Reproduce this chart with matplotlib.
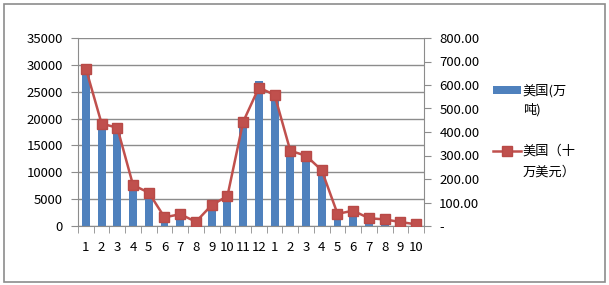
import matplotlib.pyplot as plt
import matplotlib.patches as mpatches
import numpy as np

plt.rcParams['font.family'] = ['Noto Sans CJK SC', 'DejaVu Sans']

# data
months = ['1', '2', '3', '4', '5', '6', '7', '8', '9', '10', '11', '12',
          '1', '2', '3', '4', '5', '6', '7', '8', '9', '10']
tons = [29000, 18500, 18000, 7000, 5500, 1200, 1500, 500, 3000, 5000, 18500, 27000,
        24500, 14000, 12800, 10000, 1500, 2000, 500, 200, 100, 50]
usd = [670, 436, 418, 174, 142, 37, 50, 18, 89, 127, 443, 589,
       558, 320, 299, 237, 52, 65, 33, 28, 17, 7]
leg_first = ['美国(万', '美国（十']
leg_second = ['吨)', '万美元）']

blue = '#4F81BD'
red = '#C0504D'
grid_c = '#8C8C8C'

fig = plt.figure(figsize=(6.09, 2.85), dpi=100)
# outer chart border
fig.patches.append(mpatches.Rectangle((4 / 609, 3 / 285), 601 / 609, 278 / 285,
                                      transform=fig.transFigure, fill=False,
                                      edgecolor='#8C8C8C', linewidth=1.2))

ax = fig.add_axes([78 / 609, 1 - 226 / 285, 346 / 609, 188 / 285])
x = np.arange(len(months))
ax.bar(x, tons, width=0.5, color=blue, zorder=2, label=leg_first[0])
ax.set_xlim(-0.5, len(months) - 0.5)
ax.set_ylim(0, 35000)
ax.set_yticks(np.arange(0, 35001, 5000))
ax.yaxis.grid(True, color=grid_c, linewidth=1)
ax.set_axisbelow(True)
ax.set_xticks(x)
ax.set_xticklabels(months, fontsize=9.5)
ax.set_xticks(np.arange(-0.5, len(months), 1), minor=True)
ax.tick_params(axis='x', which='major', length=0, pad=11)
ax.tick_params(axis='x', which='minor', length=5, color=grid_c, direction='out')
ax.tick_params(axis='y', length=5, color=grid_c, labelsize=9.5, pad=6)
for s in ['top', 'right']:
    ax.spines[s].set_visible(False)
ax.spines['left'].set_color(grid_c)
ax.spines['bottom'].set_color(grid_c)

ax2 = ax.twinx()
ax2.plot(x, usd, color=red, linewidth=1.8, marker='s', markersize=7.5,
         markerfacecolor=red, markeredgecolor='#B84A47', zorder=3,
         label=leg_first[1])
ax2.set_ylim(0, 800)
ax2.set_yticks(np.arange(0, 801, 100))
ax2.set_yticklabels(['-'] + ['%.2f' % v for v in range(100, 801, 100)])
ax2.tick_params(axis='y', length=5, color=grid_c, labelsize=9.5, pad=6)
for s in ['top', 'left', 'bottom']:
    ax2.spines[s].set_visible(False)
ax2.spines['right'].set_color(grid_c)

# legend: first line of each label next to its key, second line underneath
h1, l1 = ax.get_legend_handles_labels()
h2, l2 = ax2.get_legend_handles_labels()
leg = fig.legend(h1 + h2, l1 + l2, loc='center left',
                 bbox_to_anchor=(493 / 609, 1 - 121 / 285),
                 frameon=False, fontsize=9.5, handlelength=2.1, handleheight=0.55,
                 handletextpad=0.15, labelspacing=3.6, borderaxespad=0,
                 borderpad=0)
for y0, txt in zip([110, 172], leg_second):
    fig.text(523 / 609, 1 - y0 / 285, txt, fontsize=9.5, va='center', ha='left')

fig.savefig('out.png', dpi=100)
